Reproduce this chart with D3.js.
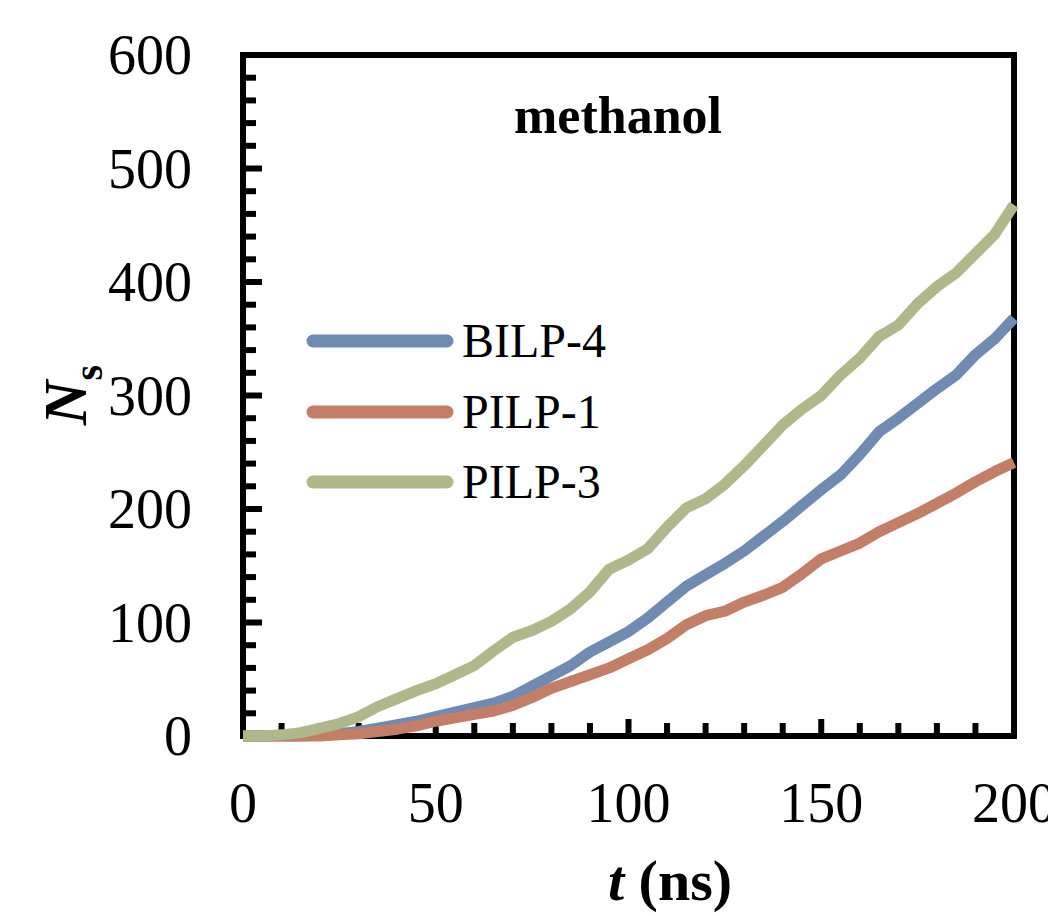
<!DOCTYPE html>
<html>
<head>
<meta charset="utf-8">
<script src="https://cdn.jsdelivr.net/npm/d3@7"></script>
<style>
  html, body { margin: 0; padding: 0; background: #fff; }
  svg { display: block; }
  text { font-family: "Liberation Serif", "Times New Roman", serif; fill: #000; }
</style>
</head>
<body>
<svg id="chart" width="1048" height="916"></svg>
<script>
// ---- data ----
const times = [0,5,10,15,20,25,30,35,40,45,50,55,60,65,70,75,80,85,90,95,100,
               105,110,115,120,125,130,135,140,145,150,155,160,165,170,175,180,185,190,195,200];
const bilp4 = [0,0,0,0,1,2,4,7,10,13,17,21,25,29,35,44,53,62,74,83,92,
               104,118,132,142,152,163,176,189,203,217,230,248,268,280,293,306,318,336,350,368];
const pilp1 = [0,0,0,0,0,1,2,4,6,9,13,16,19,22,27,34,42,48,54,60,68,
               76,86,98,106,110,118,124,131,143,156,163,170,180,188,196,205,214,224,233,241];
const pilp3 = [0,0,1,3,7,11,17,26,33,40,46,54,62,75,87,93,101,112,127,147,155,
               165,184,201,209,222,238,256,274,288,300,318,333,352,362,381,396,408,425,442,468];
const seriesNames = ["BILP-4", "PILP-1", "PILP-3"];
const seriesColors = ["#6f8bb1", "#c27e66", "#aeb88a"];
const xTickLabels = [0, 50, 100, 150, 200];
const yTickLabels = [0, 100, 200, 300, 400, 500, 600];
const titleText = "methanol";

// ---- layout ----
const svg = d3.select("#chart");
const x = d3.scaleLinear().domain([0, 200]).range([243, 1014]);
const y = d3.scaleLinear().domain([0, 600]).range([736, 55]);

// frame
svg.append("rect")
  .attr("x", x(0)).attr("y", y(600))
  .attr("width", x(200) - x(0)).attr("height", y(0) - y(600))
  .attr("fill", "none").attr("stroke", "#000").attr("stroke-width", 6);

// y ticks (inward)
const yTicks = d3.range(0, 601, 20);
svg.append("g").selectAll("line").data(yTicks).join("line")
  .attr("x1", x(0)).attr("x2", d => x(0) + (d % 100 === 0 ? 19 : 13))
  .attr("y1", d => y(d)).attr("y2", d => y(d))
  .attr("stroke", "#000").attr("stroke-width", 6);

// x ticks (inward)
const xTicks = d3.range(0, 201, 10);
svg.append("g").selectAll("line").data(xTicks).join("line")
  .attr("x1", d => x(d)).attr("x2", d => x(d))
  .attr("y1", y(0)).attr("y2", d => y(0) - (d % 50 === 0 ? 17 : 13))
  .attr("stroke", "#000").attr("stroke-width", 6);

// tick labels
svg.append("g").selectAll("text").data(yTickLabels).join("text")
  .attr("x", 192).attr("y", d => y(d) + 19)
  .attr("text-anchor", "end").attr("font-size", 56)
  .text(d => d);
svg.append("g").selectAll("text").data(xTickLabels).join("text")
  .attr("x", d => x(d)).attr("y", 822)
  .attr("text-anchor", "middle").attr("font-size", 56)
  .text(d => d);

// lines
const series = [bilp4, pilp1, pilp3];
const line = d3.line().x((d, i) => x(times[i])).y(d => y(d));
svg.append("g").selectAll("path").data(series).join("path")
  .attr("d", d => line(d))
  .attr("fill", "none")
  .attr("stroke", (d, i) => seriesColors[i])
  .attr("stroke-width", 11)
  .attr("stroke-linejoin", "round");

// legend
const legY = [341, 412, 482];
const leg = svg.append("g").selectAll("g").data(seriesNames).join("g");
leg.append("line")
  .attr("x1", 313).attr("x2", 447)
  .attr("y1", (d, i) => legY[i]).attr("y2", (d, i) => legY[i])
  .attr("stroke", (d, i) => seriesColors[i])
  .attr("stroke-width", 13).attr("stroke-linecap", "round");
leg.append("text")
  .attr("x", 462).attr("y", (d, i) => legY[i] + 16)
  .attr("font-size", 48)
  .text(d => d);

// title
svg.append("text")
  .attr("x", 618).attr("y", 133)
  .attr("text-anchor", "middle").attr("font-size", 52).attr("font-weight", "bold")
  .text(titleText);

// x axis label
const xl = svg.append("text")
  .attr("x", 670).attr("y", 900)
  .attr("text-anchor", "middle").attr("font-size", 58).attr("font-weight", "bold");
xl.append("tspan").attr("font-style", "italic").text("t");
xl.append("tspan").text(" (ns)");

// y axis label
const yl = svg.append("text")
  .attr("transform", "translate(86,395) rotate(-90)")
  .attr("text-anchor", "middle").attr("font-size", 62).attr("font-weight", "bold");
yl.append("tspan").attr("font-style", "italic").text("N");
yl.append("tspan").attr("font-size", 40).attr("dy", 16).text("s");
</script>
</body>
</html>
